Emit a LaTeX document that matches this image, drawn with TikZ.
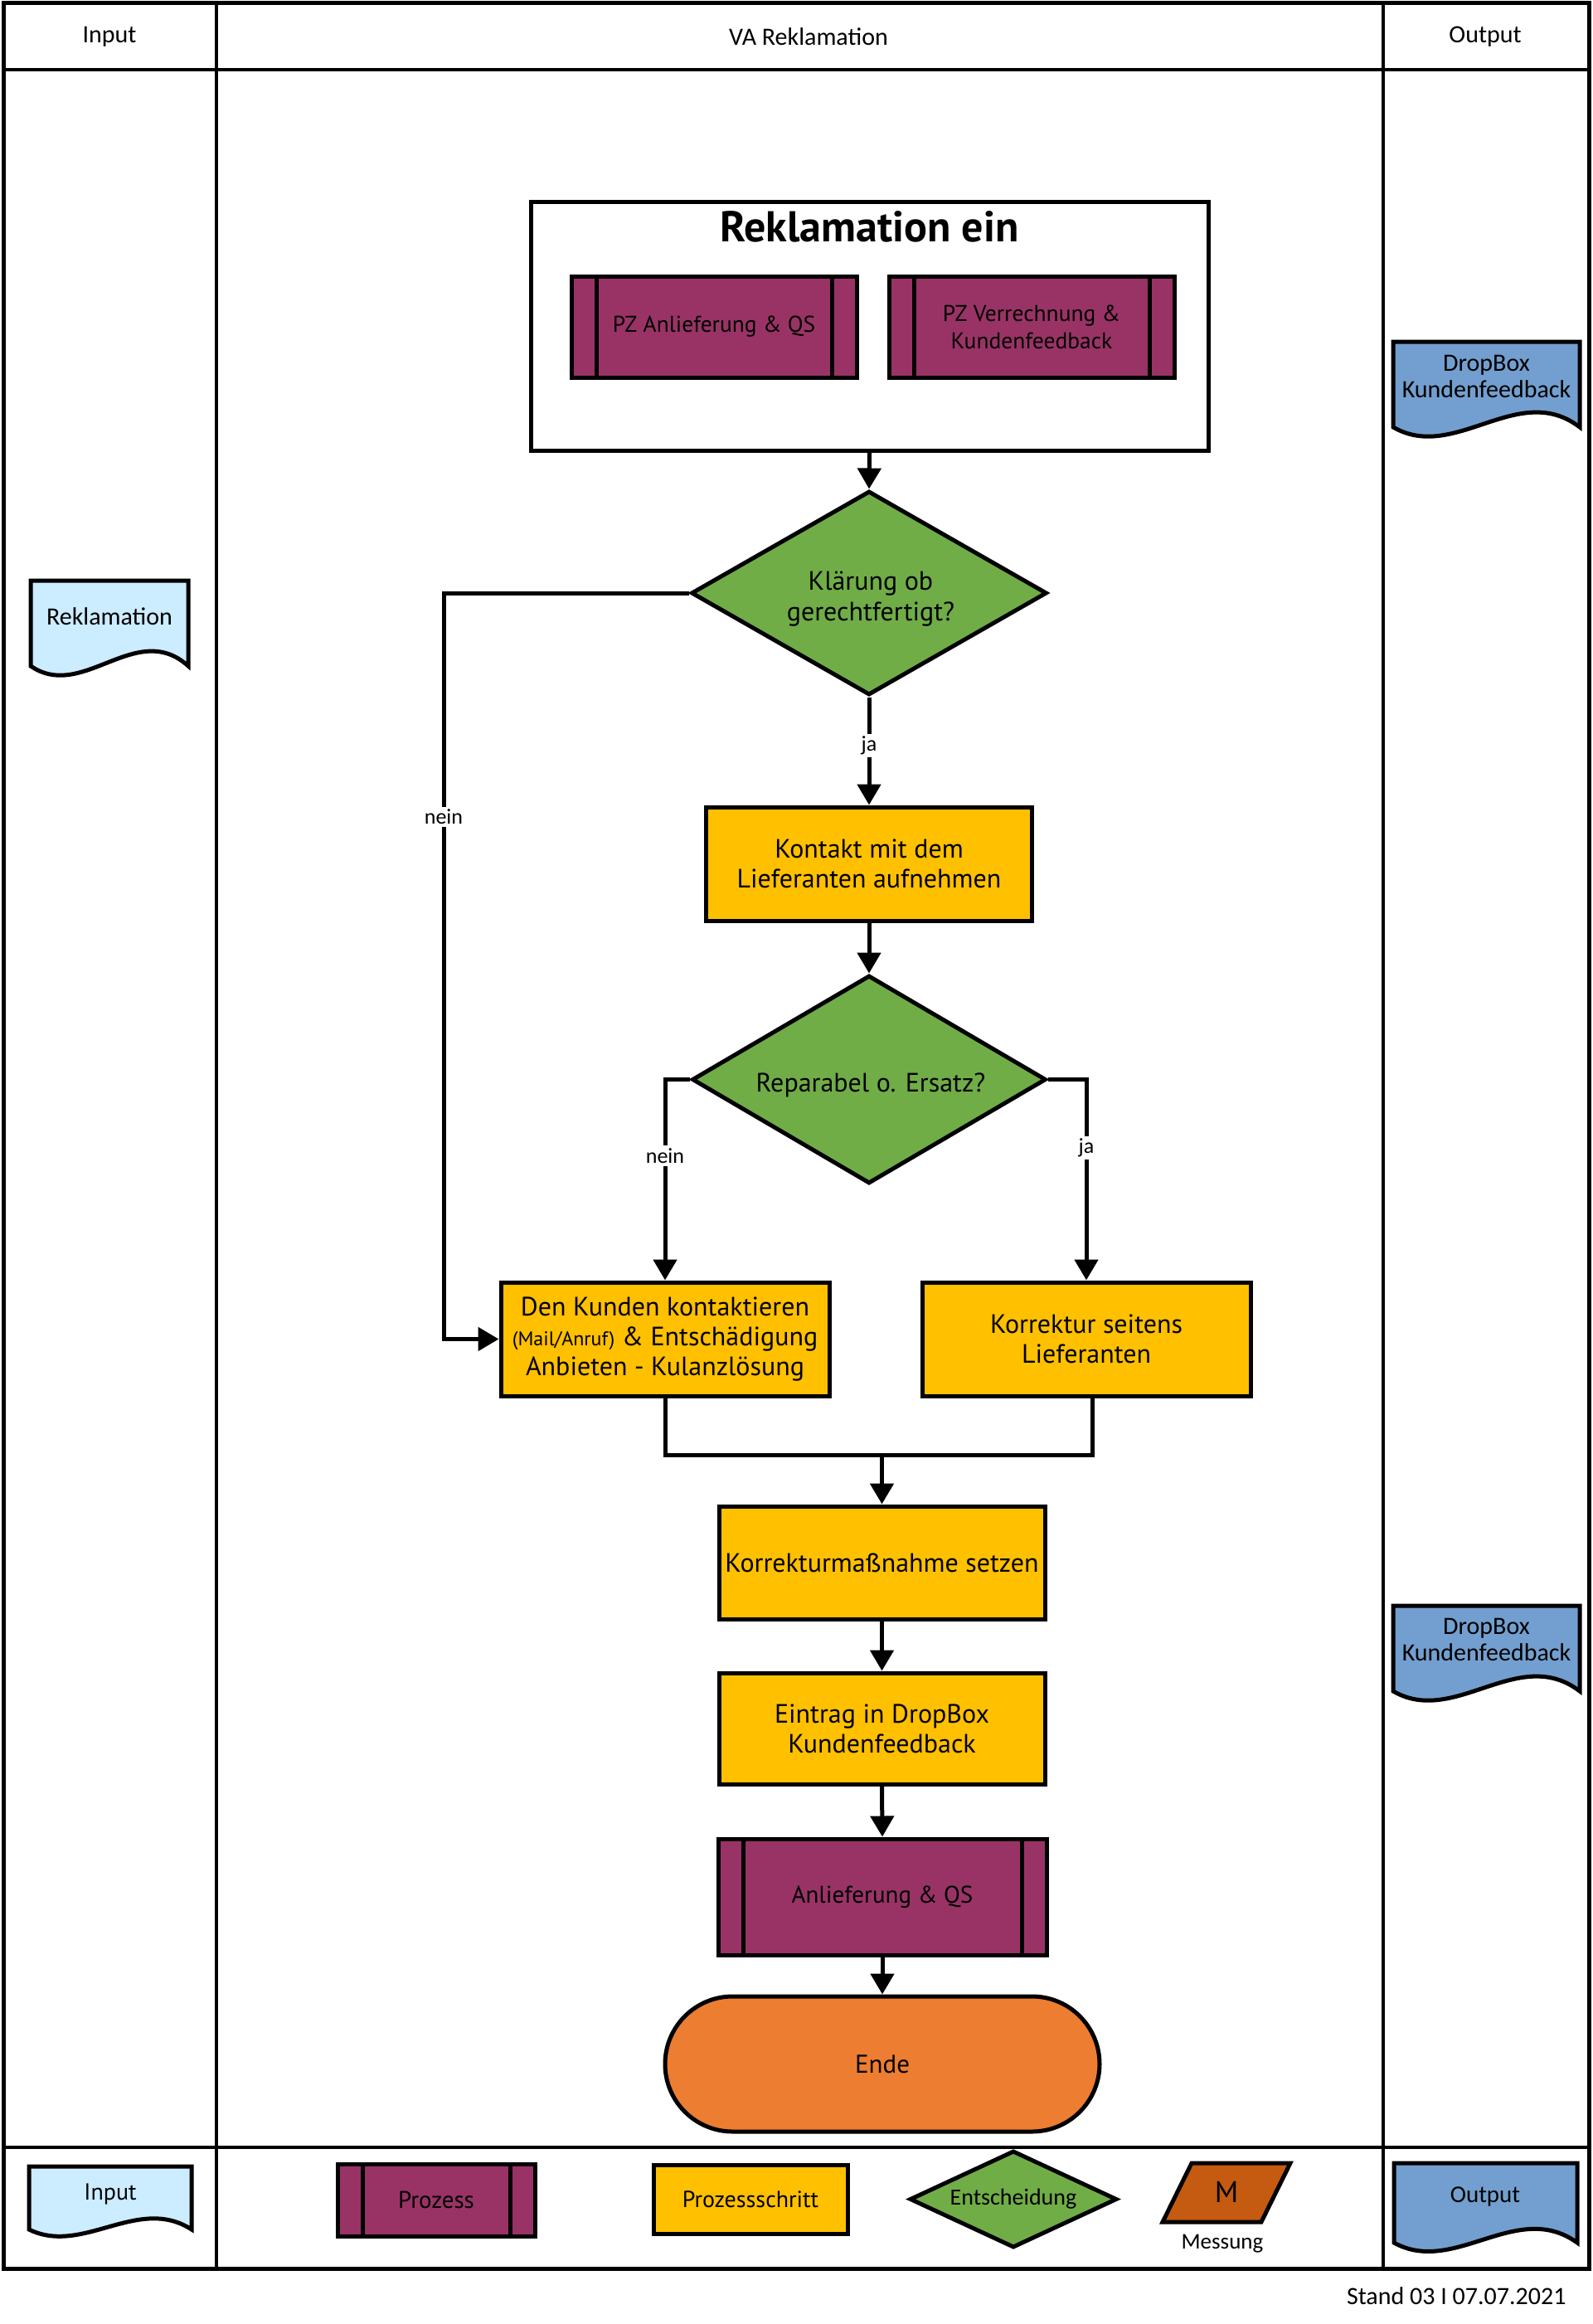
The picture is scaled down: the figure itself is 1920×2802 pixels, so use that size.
\documentclass[tikz,border=0pt]{standalone}
\usepackage{fontspec}
\setmainfont{PT Sans}
\newfontfamily\calfont{Carlito}
\usetikzlibrary{arrows.meta,shapes.geometric,shapes.misc}
\definecolor{procc}{HTML}{993366}
\definecolor{stepc}{HTML}{FFC000}
\definecolor{decc}{HTML}{70AD47}
\definecolor{endc}{HTML}{ED7D31}
\definecolor{messc}{HTML}{C55A11}
\definecolor{inc}{HTML}{CCECFF}
\definecolor{outc}{HTML}{729FCF}
\newcommand{\docpath}[5]{%
  \filldraw[fill=#5, line width=5pt] (#1,#2) -- (#3,#2) -- (#3,#4)
    .. controls ({#1+0.67*(#3-#1)},{#4-0.55*(#4-#2)}) and ({#1+0.33*(#3-#1)},{#4+0.42*(#4-#2)}) .. (#1,#4) -- cycle;}
\begin{document}
\begin{tikzpicture}[x=1pt,y=-1pt,
  box/.style={draw, line width=5pt, inner sep=0pt, align=center, font=\fontsize{32}{36}\selectfont},
  pstep/.style={box, fill=stepc},
  proc/.style={box, fill=procc, path picture={
     \draw[line width=5pt] ([xshift=30pt]path picture bounding box.north west) -- ([xshift=30pt]path picture bounding box.south west);
     \draw[line width=5pt] ([xshift=-30pt]path picture bounding box.north east) -- ([xshift=-30pt]path picture bounding box.south east);}},
  dia/.style={diamond, draw, fill=decc, line width=5pt, aspect=2, inner sep=0pt, align=center, font=\fontsize{32}{37}\selectfont},
  dtext/.style={align=center, font=\fontsize{32}{37}\selectfont},
  arr/.style={line width=5pt, -{Triangle[length=25pt,width=28pt]}},
  conn/.style={line width=5pt},
  lbl/.style={fill=white, inner sep=3pt, font=\calfont\fontsize{26}{28}\selectfont},
  head/.style={font=\calfont\fontsize{30}{34}\selectfont},
  doctext/.style={align=center, font=\calfont\fontsize{30}{32}\selectfont},
  frame/.style={line width=5pt},
  inframe/.style={line width=4pt}
]
\useasboundingbox (0,0) rectangle (1920,2802);
\fill[white] (0,0) rectangle (1920,2802);

% frame
\draw[inframe] (4,84) -- (1916,84);
\draw[inframe] (4,2589) -- (1916,2589);
\draw[inframe] (261,4) -- (261,2735);
\draw[inframe] (1668,4) -- (1668,2735);
\draw[frame] (4,4) rectangle (1916,2735);

% headers
\node[head] (hin) at (132,44) {Input};
\node[head] (hva) at (975,44) {VA Reklamation};
\node[head] (hout) at (1791,44) {Output};

% Reklamation ein
\node[box, minimum width=817pt, minimum height=300pt, fill=white] (rek) at (1048.5,393) {};
\node[font=\bfseries\fontsize{52}{58}\selectfont] (rektitle) at (1048.5,273) {Reklamation ein};
\node[proc, minimum width=344pt, minimum height=122pt, font=\fontsize{27.5}{33}\selectfont] (pz1) at (861,394) {PZ Anlieferung \& QS};
\node[proc, minimum width=344pt, minimum height=122pt, font=\fontsize{27.5}{33}\selectfont] (pz2) at (1244,394) {PZ Verrechnung \&\\Kundenfeedback};

% flow
\node[dia, minimum width=429pt, minimum height=246pt] (d1) at (1048,715) {};
\node[dtext] (d1t) at (1050,722) {Klärung ob\\gerechtfertigt?};
\node[pstep, minimum width=393pt, minimum height=137pt] (kontakt) at (1048,1041.5) {Kontakt mit dem\\Lieferanten aufnehmen};
\node[dia, minimum width=427pt, minimum height=251pt] (d2) at (1048,1301.5) {};
\node[dtext] (d2t) at (1050,1308) {Reparabel o. Ersatz?};
\node[pstep, minimum width=396pt, minimum height=137pt] (kunden) at (802,1614.5) {Den Kunden kontaktieren\\{\fontsize{24}{37}\selectfont(Mail/Anruf)} \& Entschädigung\\Anbieten - Kulanzlösung};
\node[pstep, minimum width=396pt, minimum height=137pt] (korr) at (1310,1614.5) {Korrektur seitens\\Lieferanten};
\node[pstep, minimum width=393pt, minimum height=136pt] (km) at (1063.5,1884) {Korrekturmaßnahme setzen};
\node[pstep, minimum width=393pt, minimum height=134pt] (eintrag) at (1063.5,2084) {Eintrag in DropBox\\Kundenfeedback};
\node[proc, minimum width=396pt, minimum height=140pt, font=\fontsize{29}{33}\selectfont] (anl) at (1064,2287) {Anlieferung \& QS};
\node[box, rounded rectangle, fill=endc, minimum width=524pt, minimum height=163pt, font=\fontsize{31}{36}\selectfont] (ende) at (1064,2488.5) {Ende};

% connectors
\draw[arr] (rek.south) -- (d1.north);
\draw[arr] (d1.south) -- node[lbl,pos=0.45]{ja} (kontakt.north);
\coordinate (c1) at (535,715);
\coordinate (c2) at (c1 |- kunden.west);
\draw[arr] (d1.west) -- (c1) -- node[lbl,pos=0.3]{nein} (c2) -- (kunden.west);
\draw[arr] (kontakt.south) -- (d2.north);
\draw[arr] (d2.west) -| node[lbl,pos=0.69]{nein} (kunden.north);
\draw[arr] (d2.east) -| node[lbl,pos=0.67]{ja} (korr.north);
\coordinate (merge) at (1063.5,1754);
\draw[conn] (kunden.south) |- (merge);
\draw[conn] ([xshift=7pt]korr.south) |- (merge);
\draw[arr] (merge) -- (km.north);
\draw[arr] (km.south) -- (eintrag.north);
\draw[arr] (eintrag.south) -- (anl.north);
\draw[arr] (anl.south) -- (ende.north);

% documents
\docpath{37}{700}{227}{803}{inc}
\node[doctext] (rekl) at (132,743) {Reklamation};
\docpath{1680}{412}{1905}{515}{outc}
\node[doctext] (db1) at (1792.5,454) {DropBox\\Kundenfeedback};
\docpath{1680}{1936}{1905}{2039}{outc}
\node[doctext] (db2) at (1792.5,1977) {DropBox\\Kundenfeedback};

% legend
\docpath{35}{2612}{231}{2688}{inc}
\node[font=\fontsize{28}{32}\selectfont] (lin) at (133,2645) {Input};
\node[proc, minimum width=238pt, minimum height=87pt, font=\fontsize{29}{33}\selectfont] (lproc) at (526,2652.5) {Prozess};
\node[pstep, minimum width=234pt, minimum height=83pt, font=\fontsize{28}{32}\selectfont] (lstep) at (905,2651.5) {Prozessschritt};
\node[dia, minimum width=250pt, minimum height=117pt, font=\calfont\fontsize{28}{32}\selectfont] (ldec) at (1222,2651.5) {Entscheidung};
\filldraw[fill=messc, line width=5pt] (1437,2608) -- (1556,2608) -- (1521,2679) -- (1402,2679) -- cycle;
\node[font=\fontsize{36}{38}\selectfont] (lm) at (1479,2643) {M};
\node[font=\calfont\fontsize{27}{30}\selectfont] (lmess) at (1474,2705) {Messung};
\docpath{1681}{2608}{1902}{2704}{outc}
\node[font=\calfont\fontsize{29}{32}\selectfont] (lout) at (1791,2648) {Output};

\node[anchor=east, font=\calfont\fontsize{30}{32}\selectfont] (stand) at (1892,2768) {Stand 03 I 07.07.2021};
\end{tikzpicture}
\end{document}
